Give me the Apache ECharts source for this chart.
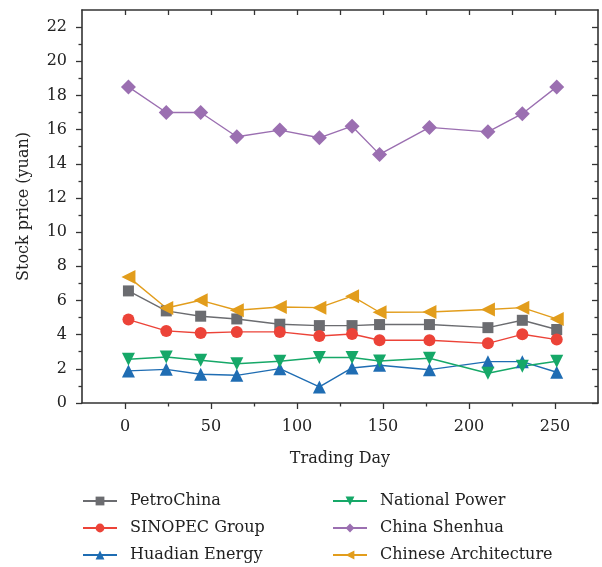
<!DOCTYPE html>
<html>
<head>
<meta charset="utf-8">
<script src="https://cdn.jsdelivr.net/npm/echarts@6/dist/echarts.min.js"></script>
<style>
  html, body { margin: 0; padding: 0; background: #fff; }
  #main { width: 602px; height: 567px; }
</style>
</head>
<body>
<div id="main"></div>
<script>
var myChart = echarts.init(document.getElementById('main'));

// trading days sampled
var days = [2, 24, 44, 65, 90, 113, 132, 148, 177, 211, 231, 251];

var petroChina   = [6.56, 5.39, 5.08, 4.92, 4.61, 4.53, 4.53, 4.59, 4.59, 4.41, 4.84, 4.30];
var sinopec      = [4.88, 4.22, 4.10, 4.16, 4.16, 3.92, 4.04, 3.67, 3.67, 3.49, 4.02, 3.71];
var huadian      = [1.88, 1.97, 1.68, 1.62, 2.01, 0.94, 2.05, 2.21, 1.95, 2.42, 2.42, 1.80];
var nationalPower = [2.56, 2.69, 2.50, 2.30, 2.44, 2.66, 2.66, 2.46, 2.62, 1.74, 2.15, 2.44];
var shenhua      = [18.5, 17.0, 17.0, 15.58, 15.97, 15.52, 16.2, 14.55, 16.13, 15.87, 16.93, 18.5];
var architecture = [7.38, 5.56, 6.01, 5.43, 5.62, 5.58, 6.25, 5.31, 5.33, 5.47, 5.58, 4.92];

var xMajor = [0, 50, 100, 150, 200, 250];
var xMinor = [25, 75, 125, 175, 225];
var yMajor = [0, 2, 4, 6, 8, 10, 12, 14, 16, 18, 20, 22];
var yMinor = [1, 3, 5, 7, 9, 11, 13, 15, 17, 19, 21];

var axisColor = '#333';
var font = 'DejaVu Serif';
var fontSize = 16;

function pairs(vals) {
    return days.map(function (d, i) { return [d, vals[i]]; });
}

// builds one axis; extra ones only carry ticks
function makeAxis(kind, pos, ticks, len, inside, showLine, labels) {
    var ax = {
        type: 'value',
        position: pos,
        min: kind === 'x' ? -25 : 0,
        max: kind === 'x' ? 275 : 23,
        splitLine: { show: false },
        axisLine: { show: showLine, onZero: false, lineStyle: { color: axisColor, width: 1.6 } },
        axisTick: { show: true, inside: inside, length: len, customValues: ticks,
                    lineStyle: { color: axisColor, width: 1.3 } },
        axisLabel: { show: !!labels, customValues: ticks, color: '#222',
                     fontFamily: font, fontSize: fontSize, margin: kind === 'x' ? 16 : 15 }
    };
    return ax;
}

var xAxes = [
    makeAxis('x', 'bottom', xMajor, 6, false, true, true),
    makeAxis('x', 'bottom', xMinor, 3.5, false, false, false),
    makeAxis('x', 'top', xMajor, 5, true, true, false),
    makeAxis('x', 'top', xMinor, 5, true, false, false)
];
xAxes[0].name = 'Trading Day';
xAxes[0].nameLocation = 'middle';
xAxes[0].nameGap = 48;
xAxes[0].nameTextStyle = { fontFamily: font, fontSize: fontSize, color: '#222' };

var yAxes = [
    makeAxis('y', 'left', yMajor, 6, false, true, true),
    makeAxis('y', 'left', yMinor, 3.5, false, false, false),
    makeAxis('y', 'right', yMajor, 6, true, true, false),
    makeAxis('y', 'right', yMinor, 3.5, true, false, false)
];
yAxes[0].name = 'Stock price (yuan)';
yAxes[0].nameLocation = 'middle';
yAxes[0].nameGap = 50;
yAxes[0].nameTextStyle = { fontFamily: font, fontSize: fontSize, color: '#222' };

function line(name, vals, color, symbol, size, rotate) {
    return {
        name: name,
        type: 'line',
        data: pairs(vals),
        symbol: symbol,
        symbolSize: size,
        symbolRotate: rotate || 0,
        showSymbol: true,
        itemStyle: { color: color },
        lineStyle: { color: color, width: 1.4 },
        z: 3
    };
}

var legendText = { fontFamily: font, fontSize: fontSize, color: '#222', padding: [0, 0, 0, 8] };

var option = {
    backgroundColor: '#fff',
    animation: false,
    grid: { left: 82, right: 4, top: 10, bottom: 164 },
    xAxis: xAxes,
    yAxis: yAxes,
    legend: [{
        orient: 'vertical',
        left: 82,
        top: 493,
        padding: 0,
        itemWidth: 34,
        itemHeight: 11,
        itemGap: 11,
        textStyle: legendText,
        data: ['PetroChina', 'SINOPEC Group', 'Huadian Energy']
    }, {
        orient: 'vertical',
        left: 332,
        top: 493,
        padding: 0,
        itemWidth: 34,
        itemHeight: 11,
        itemGap: 11,
        textStyle: legendText,
        data: ['National Power', 'China Shenhua', 'Chinese Architecture']
    }],
    series: [
        line('PetroChina', petroChina, '#6b6c70', 'rect', 11),
        line('SINOPEC Group', sinopec, '#ec4338', 'circle', 12),
        line('Huadian Energy', huadian, '#1f6db3', 'triangle', 13),
        line('National Power', nationalPower, '#16a868', 'triangle', 13, 180),
        line('China Shenhua', shenhua, '#9b6fb1', 'diamond', 15),
        line('Chinese Architecture', architecture, '#e29d1c', 'triangle', 14, 90)
    ]
};

myChart.setOption(option);
</script>
</body>
</html>
